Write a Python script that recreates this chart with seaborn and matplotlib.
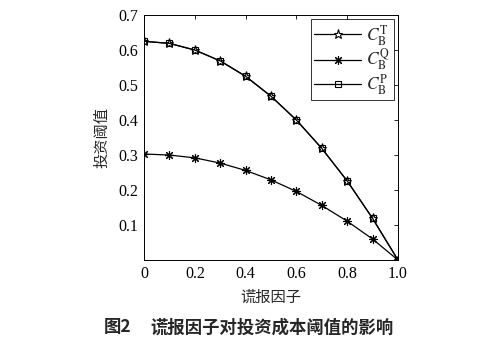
import numpy as np
import pandas as pd
import matplotlib
matplotlib.use("Agg")
import matplotlib.pyplot as plt
import seaborn as sns

# lying factor on the x axis
lie_factor = [0.0, 0.1, 0.2, 0.3, 0.4, 0.5, 0.6, 0.7, 0.8, 0.9, 1.0]
# investment cost thresholds
c_T = [0.625, 0.619, 0.600, 0.569, 0.525, 0.468, 0.400, 0.319, 0.226, 0.119, 0.0]
c_Q = [0.303, 0.300, 0.292, 0.277, 0.256, 0.229, 0.196, 0.156, 0.111, 0.060, 0.0]
c_P = [0.625, 0.619, 0.600, 0.569, 0.525, 0.468, 0.400, 0.319, 0.226, 0.119, 0.0]
series_labels = [r"$C_{\mathrm{B}}^{\mathrm{T}}$", r"$C_{\mathrm{B}}^{\mathrm{Q}}$", r"$C_{\mathrm{B}}^{\mathrm{P}}$"]
x_ticks = [0, 0.2, 0.4, 0.6, 0.8, 1.0]
x_tick_labels = ["0", "0.2", "0.4", "0.6", "0.8", "1.0"]
y_ticks = [0.1, 0.2, 0.3, 0.4, 0.5, 0.6, 0.7]
y_tick_labels = ["0.1", "0.2", "0.3", "0.4", "0.5", "0.6", "0.7"]

sns.set_theme(style="white")
plt.rcParams["font.family"] = ["Liberation Serif", "Noto Sans CJK SC"]
plt.rcParams["mathtext.fontset"] = "stix"

df = pd.DataFrame({"x": lie_factor, "T": c_T, "Q": c_Q, "P": c_P})

fig = plt.figure(figsize=(4.95, 3.5), dpi=100)
ax = fig.add_axes([0.291, 0.257, 0.513, 0.700])

styles = [
    ("T", "*", 6.5, "white"),
    ("Q", (8, 2, 0), 6.5, "black"),
    ("P", "s", 5.0, "none"),
]
for (col, mk, ms, fc), lab in zip(styles, series_labels):
    sns.lineplot(data=df, x="x", y=col, ax=ax, color="black", linewidth=0.9,
                 marker=mk, markersize=ms, markerfacecolor=fc,
                 markeredgecolor="black", markeredgewidth=0.8, label=lab)

ax.set_xlim(0, 1.0)
ax.set_ylim(0, 0.7)
ax.set_xticks(x_ticks)
ax.set_xticklabels(x_tick_labels)
ax.set_yticks(y_ticks)
ax.set_yticklabels(y_tick_labels)
ax.tick_params(direction="in", top=True, right=True, length=3, width=0.6,
               labelsize=11.5, colors="black", pad=4)
for s in ax.spines.values():
    s.set_color("black")
    s.set_linewidth(0.7)

ax.set_xlabel("谎报因子", fontsize=11, family=["Noto Sans CJK SC"], labelpad=5)
ax.set_ylabel("投资阈值", fontsize=11, family=["Noto Sans CJK SC"], labelpad=6)

leg = ax.legend(loc="upper right", fontsize=12.5, frameon=True, fancybox=False,
                edgecolor="black", handlelength=2.7, labelspacing=-0.05,
                borderpad=0.2, handletextpad=0.3, borderaxespad=0.25)
leg.get_frame().set_linewidth(0.7)

fig.text(0.21, 0.065, "图2", fontsize=12.5, fontweight="bold",
         family=["Noto Sans CJK SC"], va="center", ha="left")
fig.text(0.303, 0.065, "谎报因子对投资成本阈值的影响", fontsize=12.5,
         fontweight="bold", family=["Noto Sans CJK SC"], va="center", ha="left")

fig.savefig("out.png", dpi=100, facecolor="white")
